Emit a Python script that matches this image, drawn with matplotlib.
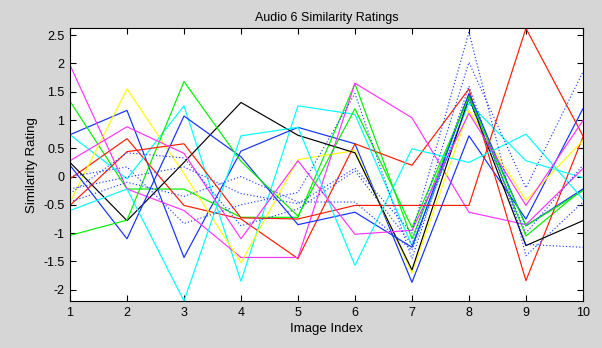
import matplotlib
matplotlib.use("Agg")
import matplotlib.pyplot as plt

plt.rcParams['font.family'] = ['Liberation Sans', 'DejaVu Sans']
plt.rcParams['axes.unicode_minus'] = False

x = [1, 2, 3, 4, 5, 6, 7, 8, 9, 10]

blue_a = [0.74, 1.17, -1.43, 0.45, 0.87, 0.58, -1.87, 0.72, -0.75, 1.2]
blue_b = [0.2, -1.1, 1.07, 0.35, -0.85, -0.63, -1.25, 1.47, -0.87, -0.22]
green_a = [1.33, -0.22, -0.22, -0.72, -0.72, 1.64, -1.1, 1.45, -1.05, -0.22]
green_b = [-1.04, -0.77, 1.68, 0.27, -0.7, 1.2, -0.9, 1.4, -0.87, -0.25]
red_a = [-0.04, 0.67, -0.51, -0.75, -1.45, 0.58, 0.2, 1.55, -1.84, 0.7]
red_b = [-0.51, 0.44, 0.58, -0.73, -0.75, -0.51, -0.51, -0.51, 2.62, 0.72]
cyan_a = [0.74, -0.04, 1.25, -1.85, 1.25, 1.1, -1.22, 1.3, 0.28, -0.02]
cyan_b = [-0.6, -0.22, -2.2, 0.72, 0.87, -1.57, 0.49, 0.25, 0.75, -0.4]
magenta_a = [1.97, -0.22, -0.6, -1.43, -1.43, 1.65, 1.04, -0.63, -0.85, 0.14]
magenta_b = [0.28, 0.88, 0.41, -1.1, 0.28, -1.02, -0.95, 1.12, -0.51, 0.99]
yellow = [-0.45, 1.55, 0.05, -1.52, 0.3, 0.46, -1.7, 1.17, -0.42, 0.64]
black = [0.25, -0.78, 0.25, 1.31, 0.73, 0.42, -1.65, 1.4, -1.22, -0.78]

dotted_1 = [-0.22, -0.01, 0.17, -0.3, -0.48, 0.15, -1.0, 2.55, -1.4, -0.45]
dotted_2 = [-0.3, 0.42, 0.33, -0.87, -0.57, 0.1, -1.2, 2.02, -0.2, 1.85]
dotted_3 = [0.0, 0.17, -0.83, -0.5, -0.28, 1.47, -1.45, 1.6, -1.2, -1.25]
dotted_4 = [-0.45, -0.1, -0.35, 0.0, -0.45, -0.45, -1.3, 1.35, -1.0, 0.2]

ytick_vals = [-2, -1.5, -1, -0.5, 0, 0.5, 1, 1.5, 2, 2.5]
ytick_labels = ['-2', '-1.5', '-1', '-0.5', '0', '0.5', '1', '1.5', '2', '2.5']

solid_series = [
    (blue_a, '#1030FF'), (green_a, '#00F000'), (red_a, '#FF1A00'),
    (cyan_a, '#00FFFF'), (magenta_a, '#FF33FF'), (yellow, '#FFFF00'),
    (black, '#000000'),
    (blue_b, '#1030FF'), (green_b, '#00F000'), (red_b, '#FF1A00'),
    (cyan_b, '#00FFFF'), (magenta_b, '#FF33FF'),
]
dotted_series = [dotted_1, dotted_2, dotted_3, dotted_4]

fig = plt.figure(figsize=(6.02, 3.48), dpi=100)
fig.patch.set_facecolor('#D6D6D6')
ax = fig.add_axes([0.1163, 0.135, 0.852, 0.7835])
ax.set_facecolor('white')

for vals, col in solid_series:
    ax.plot(x, vals, color=col, lw=0.85)
for vals in dotted_series:
    ax.plot(x, vals, color='#2040FF', lw=0.85, linestyle=(0, (1, 1.8)))

all_vals = [v for s, _ in solid_series for v in s] + [v for s in dotted_series for v in s]
ax.set_xlim(1, 10)
ax.set_ylim(min(all_vals), max(all_vals))
ax.set_xticks(x)
ax.set_xticklabels([str(i) for i in x])
ax.set_yticks(ytick_vals)
ax.set_yticklabels(ytick_labels)

ax.tick_params(direction='in', length=4, width=0.8, top=True, right=True,
               labelsize=9, colors='black', pad=4)
for sp in ax.spines.values():
    sp.set_linewidth(0.8)
    sp.set_color('black')

ax.set_title('Audio 6 Similarity Ratings', fontsize=9, pad=5)
ax.set_xlabel('Image Index', fontsize=9.5, labelpad=3)
ax.set_ylabel('Similarity Rating', fontsize=9.5, labelpad=4)

fig.savefig('out.png', dpi=100, facecolor=fig.get_facecolor())
